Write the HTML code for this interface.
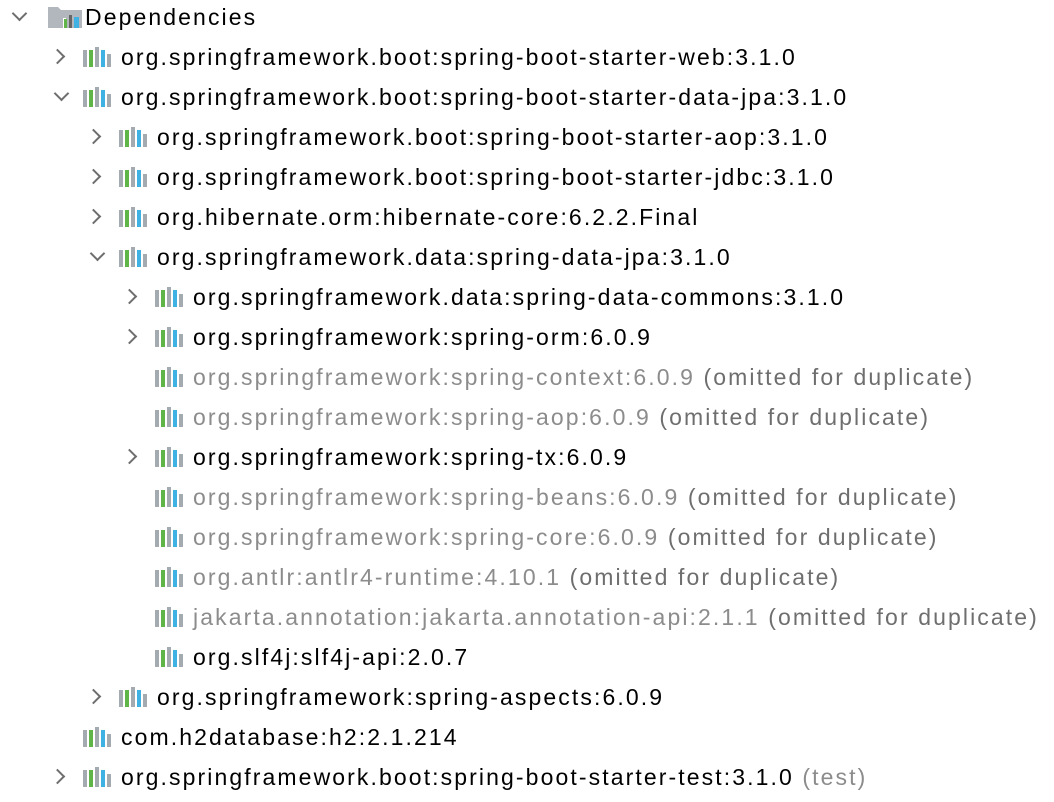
<!DOCTYPE html>
<html><head><style>
body{margin:0;background:#fff;width:1054px;height:802px;overflow:hidden;font-family:"Liberation Sans",sans-serif;}
.r{position:absolute;height:40px;line-height:40px;font-size:23px;color:#000;white-space:nowrap;letter-spacing:2.1px}
.g{color:#8c8c8c}
.a{position:absolute;width:9px;height:9px;border-right:2px solid #6e6e6e;border-bottom:2px solid #6e6e6e}
.a.c{transform:rotate(-45deg)}
.a.o{transform:rotate(45deg)}
.i{position:absolute;width:30px;height:20px}
</style></head><body>
<div id="c"></div>
<script>
const rows=[
[0,'o','Dependencies',0,1],
[1,'c','org.springframework.boot:spring-boot-starter-web:3.1.0'],
[1,'o','org.springframework.boot:spring-boot-starter-data-jpa:3.1.0'],
[2,'c','org.springframework.boot:spring-boot-starter-aop:3.1.0'],
[2,'c','org.springframework.boot:spring-boot-starter-jdbc:3.1.0'],
[2,'c','org.hibernate.orm:hibernate-core:6.2.2.Final'],
[2,'o','org.springframework.data:spring-data-jpa:3.1.0'],
[3,'c','org.springframework.data:spring-data-commons:3.1.0'],
[3,'c','org.springframework:spring-orm:6.0.9'],
[3,'','org.springframework:spring-context:6.0.9 <span style="color:#6e6e6e">(omitted for duplicate)</span>',1],
[3,'','org.springframework:spring-aop:6.0.9 <span style="color:#6e6e6e">(omitted for duplicate)</span>',1],
[3,'c','org.springframework:spring-tx:6.0.9'],
[3,'','org.springframework:spring-beans:6.0.9 <span style="color:#6e6e6e">(omitted for duplicate)</span>',1],
[3,'','org.springframework:spring-core:6.0.9 <span style="color:#6e6e6e">(omitted for duplicate)</span>',1],
[3,'','org.antlr:antlr4-runtime:4.10.1 <span style="color:#6e6e6e">(omitted for duplicate)</span>',1],
[3,'','jakarta.annotation:jakarta.annotation-api:2.1.1 <span style="color:#6e6e6e">(omitted for duplicate)</span>',1],
[3,'','org.slf4j:slf4j-api:2.0.7'],
[2,'c','org.springframework:spring-aspects:6.0.9'],
[1,'','com.h2database:h2:2.1.214'],
[1,'c','org.springframework.boot:spring-boot-starter-test:3.1.0 <span class="g">(test)</span>']
];
const icon='<svg width="30" height="20"><rect x="0" y="3" width="4" height="17" fill="#a3abb1"/><rect x="6" y="3" width="4" height="17" fill="#5fb547"/><rect x="12" y="0" width="4" height="20" fill="#a3abb1"/><rect x="18" y="3" width="4" height="17" fill="#3fb1e3"/><rect x="24" y="7" width="4" height="13" fill="#a3abb1"/></svg>';
const folder='<svg width="34" height="22"><path d="M0 1h10l3 3h21v18H0z" fill="#b1b7bd"/><rect x="15" y="12" width="3" height="10" fill="#fff"/><rect x="16" y="13" width="3" height="9" fill="#5fb547"/><rect x="21" y="9" width="3" height="13" fill="#666"/><rect x="26" y="11" width="5" height="11" fill="#3fb1e3"/></svg>';
let h='';
rows.forEach((r,k)=>{
 const [lv,ar,t,gray,isF]=r;const y=k*40-3;
 const ax=lv==0?14:20+lv*36, tx=lv==0?85:121+(lv-1)*36, ix=lv==0?48:83+(lv-1)*36;
 if(ar) h+=`<div class="a ${ar}" style="left:${ar=='c'?ax-4:ax}px;top:${ar=='c'?y+20-6:y+20-9}px"></div>`;
 if(isF) h+=`<div class="i" style="left:${ix}px;top:${y+9}px;width:34px;height:22px">${folder}</div>`;
 else h+=`<div class="i" style="left:${ix}px;top:${y+10}px">${icon}</div>`;
 h+=`<div class="r${gray?' g':''}" style="left:${tx}px;top:${y}px">${t}</div>`;
});
document.getElementById('c').innerHTML=h;
</script>
</body></html>
